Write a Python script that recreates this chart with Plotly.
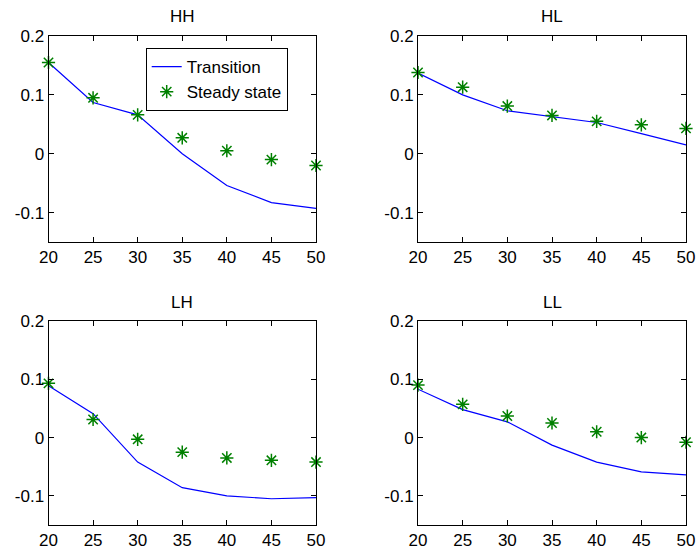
import plotly.graph_objects as go

ages = [20, 25, 30, 35, 40, 45, 50]

hh_transition = [0.155, 0.087, 0.066, 0.000, -0.054, -0.083, -0.093]
hh_steady = [0.155, 0.095, 0.066, 0.027, 0.005, -0.010, -0.020]

hl_transition = [0.137, 0.100, 0.073, 0.063, 0.053, 0.034, 0.015]
hl_steady = [0.138, 0.113, 0.081, 0.065, 0.055, 0.049, 0.043]

lh_transition = [0.089, 0.041, -0.042, -0.086, -0.100, -0.105, -0.103]
lh_steady = [0.093, 0.031, -0.003, -0.025, -0.035, -0.039, -0.042]

ll_transition = [0.083, 0.048, 0.027, -0.013, -0.042, -0.059, -0.064]
ll_steady = [0.090, 0.057, 0.037, 0.025, 0.010, 0.000, -0.008]

panel_titles = ["HH", "HL", "LH", "LL"]
x_ticks = [20, 25, 30, 35, 40, 45, 50]
y_ticks = [-0.1, 0, 0.1, 0.2]
y_ticktext = ["-0.1", "0", "0.1", "0.2"]

W, H = 698, 559
FONT = "Liberation Sans, Arial, Helvetica, sans-serif"
FS = 17

# pixel boxes of plot areas (left, right, top, bottom)
boxes = [(48.5, 316, 36, 242), (418, 686, 36, 242),
         (48.5, 316, 321, 525), (418, 686, 321, 525)]

panels = [(hh_transition, hh_steady), (hl_transition, hl_steady),
          (lh_transition, lh_steady), (ll_transition, ll_steady)]

fig = go.Figure()
layout = dict(
    width=W, height=H,
    margin=dict(l=0, r=0, t=0, b=0, autoexpand=False),
    paper_bgcolor="white", plot_bgcolor="white",
    font=dict(family=FONT, size=FS, color="black"),
    showlegend=True,
    legend=dict(x=145.7 / W, y=1 - 48 / H, xanchor="left", yanchor="top",
                bordercolor="black", borderwidth=1, bgcolor="white",
                font=dict(family=FONT, size=FS, color="black"),
                tracegroupgap=0, itemwidth=30),
)
annotations = []
for i, ((t, s), (l, r, top, bot)) in enumerate(zip(panels, boxes)):
    sfx = "" if i == 0 else str(i + 1)
    fig.add_trace(go.Scatter(
        x=ages, y=t, mode="lines", name="Transition",
        line=dict(color="#0000ff", width=1.2),
        showlegend=(i == 0), xaxis="x" + sfx, yaxis="y" + sfx, cliponaxis=False))
    fig.add_trace(go.Scatter(
        x=ages, y=s, mode="markers", name="Steady state",
        marker=dict(symbol="asterisk-open", size=11, color="#008000",
                    line=dict(color="#008000", width=1.5)),
        showlegend=(i == 0), xaxis="x" + sfx, yaxis="y" + sfx, cliponaxis=False))
    common = dict(showgrid=False, zeroline=False, showline=True, linecolor="black",
                  linewidth=1, mirror="ticks", ticks="inside", ticklen=5,
                  tickcolor="black", automargin=False,
                  tickfont=dict(family=FONT, size=FS, color="black"))
    layout["xaxis" + sfx] = dict(domain=[l / W, r / W], range=[20, 50],
                                 tickvals=x_ticks, anchor="y" + sfx, **common)
    layout["yaxis" + sfx] = dict(domain=[1 - bot / H, 1 - top / H], range=[-0.15, 0.2],
                                 tickvals=y_ticks, ticktext=y_ticktext,
                                 anchor="x" + sfx, **common)
    annotations.append(dict(text=panel_titles[i], x=(l + r) / 2 / W,
                            y=1 - (top - 19) / H, xref="paper", yref="paper",
                            xanchor="center", yanchor="middle", showarrow=False,
                            font=dict(family=FONT, size=FS, color="black")))
layout["annotations"] = annotations
fig.update_layout(**layout)
fig.write_html("out.html", config={"displayModeBar": False},
               post_script="document.body.style.margin='0';document.body.style.overflow='hidden';")
